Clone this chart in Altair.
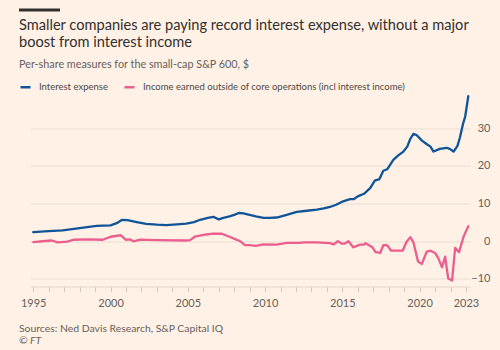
import altair as alt
import pandas as pd

# ---- data ----
exp_years = [1995.0, 1996.0, 1996.9, 1998.0, 1999.1, 2000.0, 2000.4, 2000.75, 2001.1, 2001.7,
             2002.3, 2003.0, 2003.6, 2004.3, 2004.9, 2005.4, 2005.8, 2006.3, 2006.65, 2007.0,
             2007.3, 2007.7, 2008.0, 2008.3, 2008.6, 2009.0, 2009.4, 2009.9, 2010.3, 2010.75,
             2011.4, 2012.05, 2012.7, 2013.35, 2013.8, 2014.2, 2014.6, 2015.05, 2015.5, 2015.75,
             2016.0, 2016.4, 2016.8, 2017.1, 2017.4, 2017.65, 2017.9, 2018.3, 2018.6, 2018.95,
             2019.2, 2019.4, 2019.6, 2019.8, 2020.15, 2020.45, 2020.7, 2020.9, 2021.3, 2021.75,
             2021.95, 2022.2, 2022.45, 2022.6, 2022.8, 2022.95, 2023.15]
exp_values = [2.4, 2.7, 2.9, 3.5, 4.1, 4.2, 4.8, 5.7, 5.6, 5.1,
              4.6, 4.4, 4.3, 4.5, 4.7, 5.1, 5.7, 6.2, 6.5, 5.8,
              6.2, 6.6, 7.0, 7.5, 7.4, 7.0, 6.6, 6.2, 6.2, 6.3,
              7.0, 7.8, 8.1, 8.4, 8.7, 9.1, 9.7, 10.6, 11.2, 11.2,
              11.9, 12.6, 14.1, 16.1, 16.5, 18.7, 19.1, 21.6, 22.7, 23.8,
              25.1, 27.2, 28.5, 28.2, 26.7, 25.8, 25.1, 23.8, 24.5, 24.8,
              24.5, 23.8, 25.3, 27.4, 31.0, 33.1, 38.5]

inc_years = [1995.0, 1995.6, 1996.2, 1996.6, 1997.2, 1997.6, 1998.5, 1999.5, 2000.0, 2000.65,
             2001.0, 2001.25, 2001.5, 2001.9, 2003.0, 2004.9, 2005.15, 2005.45, 2006.2, 2006.65,
             2007.2, 2007.7, 2008.1, 2008.4, 2008.7, 2009.0, 2009.4, 2009.9, 2010.75, 2011.4,
             2012.25, 2012.5, 2013.35, 2014.2, 2014.45, 2014.7, 2014.95, 2015.15, 2015.4, 2015.7,
             2016.15, 2016.4, 2016.5, 2016.75, 2016.95, 2017.15, 2017.45, 2017.65, 2017.9, 2018.15,
             2018.9, 2019.15, 2019.4, 2019.6, 2019.9, 2020.15, 2020.45, 2020.7, 2021.0, 2021.2,
             2021.45, 2021.65, 2021.85, 2022.1, 2022.3, 2022.55, 2022.85, 2023.15]
inc_values = [-0.2, 0.0, 0.2, -0.3, -0.1, 0.4, 0.5, 0.4, 1.2, 1.6,
              0.4, 0.5, 0.0, 0.45, 0.3, 0.2, 0.3, 1.2, 1.8, 2.0,
              2.0, 1.2, 0.5, 0.0, -1.0, -1.0, -1.2, -0.8, -0.9, -0.4,
              -0.4, -0.3, -0.3, -0.5, -0.8, 0.0, -0.6, -0.6, 0.0, -1.6,
              -0.9, -0.9, -0.5, -1.1, -1.6, -2.9, -3.1, -1.05, -1.0, -2.5,
              -2.5, -0.2, 1.1, -0.3, -5.4, -6.0, -2.8, -2.5, -3.1, -4.4,
              -6.9, -4.1, -9.9, -10.4, -1.75, -2.9, 1.3, 4.0]

series_names = ["Interest expense",
                "Income earned outside of core operations (incl interest income)"]
series_colors = ["#0f5499", "#eb5e8d"]

y_ticks = [-10, 0, 10, 20, 30]
x_ticks = list(range(1995, 2024))
x_labels = [1995, 2000, 2005, 2010, 2015, 2020, 2023]

title_lines = ["Smaller companies are paying record interest expense, without a major",
               "boost from interest income"]
subtitle = "Per-share measures for the small-cap S&P 600, $"
source = "Sources: Ned Davis Research, S&P Capital IQ"
credit = "\u00a9 FT"

# ---- build table ----
df = pd.concat([
    pd.DataFrame({"year": exp_years, "value": exp_values, "series": series_names[0]}),
    pd.DataFrame({"year": inc_years, "value": inc_values, "series": series_names[1]}),
])

FONT = "Lato"
BG = "#fff1e5"
W, H = 440, 196
PAD_L, PAD_T = 30, 90.5

label_test = "indexof([" + ",".join(str(v) for v in x_labels) + "], datum.value) >= 0 ? '' + datum.value : ''"

lines = alt.Chart(df).mark_line(strokeWidth=2.3, strokeJoin="round", strokeCap="round").encode(
    x=alt.X("year:Q",
            scale=alt.Scale(domain=[1994.79, 2023.26], nice=False, zero=False),
            axis=alt.Axis(values=x_ticks, labelExpr=label_test, title=None, grid=False,
                          domain=True, domainColor="#e3d6cb", domainWidth=1,
                          ticks=True, tickColor="#d5c8bd", tickSize=5,
                          labelColor="#66605c", labelFontSize=11, labelFont=FONT,
                          labelPadding=6, labelOverlap=False, labelFlush=False)),
    y=alt.Y("value:Q",
            scale=alt.Scale(domain=[-12, 40], nice=False, zero=False),
            axis=alt.Axis(values=y_ticks, orient="right", title=None, grid=True,
                          gridColor="#e9ddd2", gridWidth=1, domain=False, ticks=False,
                          labelAlign="right", labelPadding=20, labelBaseline="middle",
                          labelColor="#66605c", labelFontSize=11, labelFont=FONT)),
    color=alt.Color("series:N",
                    scale=alt.Scale(domain=series_names, range=series_colors),
                    legend=alt.Legend(orient="none", legendX=-11, legendY=-10,
                                      direction="horizontal", title=None,
                                      symbolType="stroke", symbolSize=100,
                                      symbolStrokeWidth=2.5, labelOffset=7,
                                      columnPadding=11, padding=0,
                                      labelFont=FONT, labelFontSize=9.5,
                                      labelColor="#4d4845", labelLimit=400)),
)

def text_layer(lines_, x, y, size, color, style="normal", weight="normal"):
    d = pd.DataFrame({"t": lines_})
    return alt.Chart(d).mark_text(align="left", baseline="middle", font=FONT, fontSize=size,
                                  color=color, fontStyle=style, fontWeight=weight).encode(
        text="t:N", x=alt.value(x), y=alt.value(y))

title1 = text_layer([title_lines[0]], -11, 25.7 - PAD_T, 14.6, "#33302e")
title2 = text_layer([title_lines[1]], -11, 43 - PAD_T, 14.6, "#33302e")
sub = text_layer([subtitle], -11, 65 - PAD_T, 10.8, "#66605c")
src = text_layer([source], -11, 329 - PAD_T, 10.4, "#66605c")
cr = text_layer([credit], -11, 341 - PAD_T, 10.4, "#66605c", style="italic")

bar = alt.Chart(pd.DataFrame({"a": [0]})).mark_rule(color="#33302e", strokeWidth=3).encode(
    x=alt.value(-11), x2=alt.value(30), y=alt.value(10 - PAD_T))

chart = alt.layer(lines, title1, title2, sub, src, cr, bar).properties(
    width=W, height=H,
    background=BG,
    autosize=alt.AutoSizeParams(type="none"),
    padding={"left": PAD_L, "top": PAD_T, "right": 500 - PAD_L - W, "bottom": 350 - PAD_T - H},
).configure_view(stroke=None)

chart.save("out.html", embed_options={"renderer": "svg", "actions": False})
